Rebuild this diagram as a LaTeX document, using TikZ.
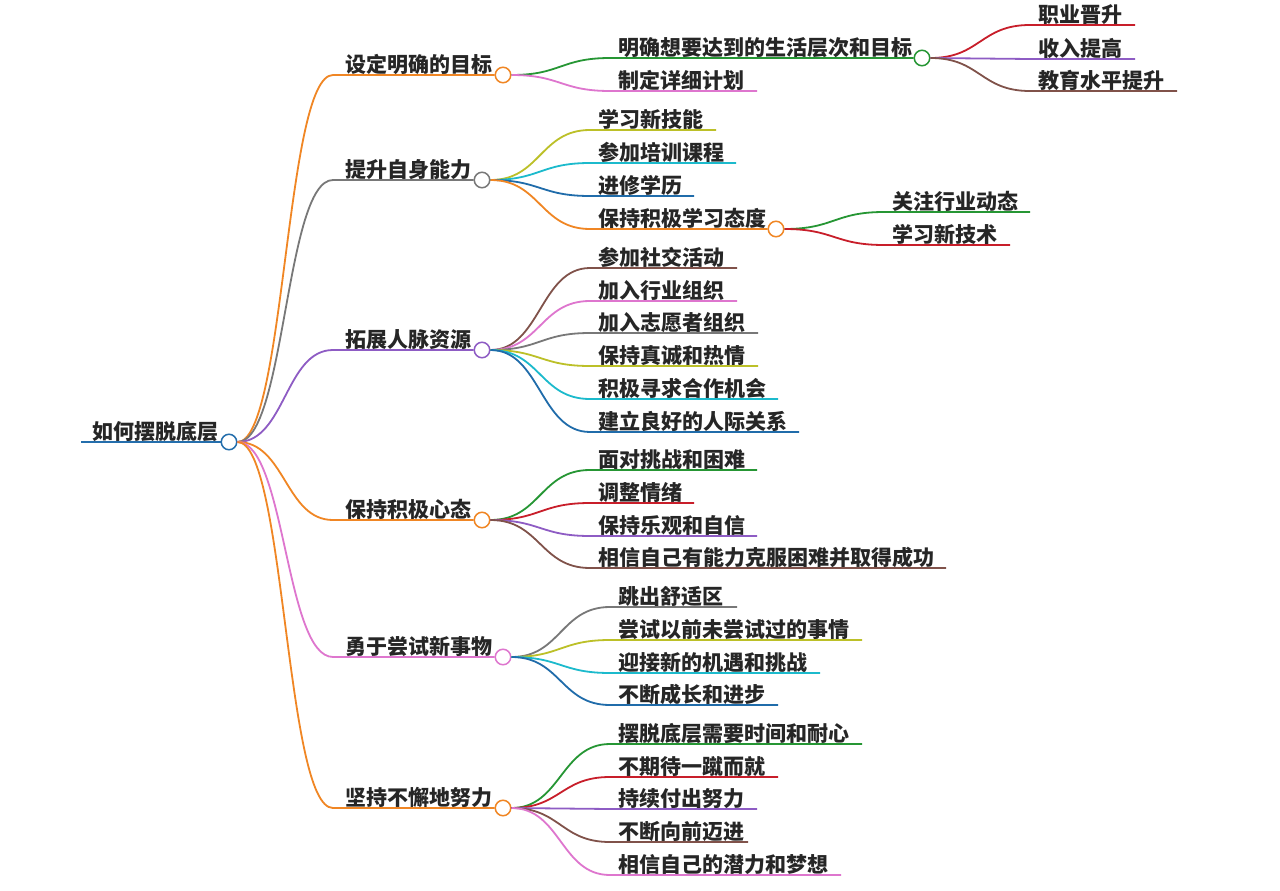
\documentclass[tikz,border=0pt]{standalone}
\usepackage{fontspec}
\setmainfont{Noto Sans CJK SC}
\usetikzlibrary{calc}
\definecolor{mmblue}{RGB}{36,110,172}
\definecolor{mmorange}{RGB}{240,134,36}
\definecolor{mmgray}{RGB}{120,120,120}
\definecolor{mmpurple}{RGB}{142,92,196}
\definecolor{mmpink}{RGB}{222,118,206}
\definecolor{mmgreen}{RGB}{38,150,52}
\definecolor{mmred}{RGB}{200,30,42}
\definecolor{mmbrown}{RGB}{128,82,74}
\definecolor{mmolive}{RGB}{188,192,40}
\definecolor{mmcyan}{RGB}{28,186,204}
\definecolor{mmdeep}{RGB}{32,108,170}

\begin{document}
\begin{tikzpicture}[
  x=1pt, y=-1pt,
  link/.style={line width=1.8pt},
  curve/.style={to path={let \p1=(\tikztostart), \p2=(\tikztotarget) in
    .. controls ({(\x1+\x2)/2},\y1) and ({(\x1+\x2)/2},\y2) .. (\tikztotarget)}},
  dot/.style={circle, draw, fill=white, line width=1.5pt, minimum size=15.5pt, inner sep=0pt},
  txt/.style={anchor=base west, inner sep=0pt, font=\fontsize{21}{24}\selectfont\bfseries, text=black!85}
]
  \useasboundingbox[fill=white] (0,0) rectangle (1280,891);

  % Root
  \coordinate (r0) at (81,442);
  \node[dot, draw=mmblue] (root) at (229,442) {};
  \node[txt] (rt) at (92,439.5) {如何摆脱底层};
  \draw[link, mmblue] (r0) -- (root.west);

  % Main branches
  \foreach \y/\cx/\c/\t [count=\i] in {
      75/503/mmorange/设定明确的目标,
      180/482/mmgray/提升自身能力,
      350/482/mmpurple/拓展人脉资源,
      520/482/mmorange/保持积极心态,
      657/503/mmpink/勇于尝试新事物,
      808/503/mmorange/坚持不懈地努力} {
    \coordinate (s\i) at (333,\y);
    \node[dot, draw=\c] (c\i) at (\cx,\y) {};
    \node[txt] (t\i) at (345,\y-2.5) {\t};
    \draw[link, \c] (root.east) to[curve] (s\i) -- (c\i.west);
  }

  % Goals
  \coordinate (a1) at (610,58);
  \node[dot, draw=mmgreen] (g1) at (922,58) {};
  \node[txt] (at1) at (618,55.5) {明确想要达到的生活层次和目标};
  \draw[link, mmgreen] (c1.east) to[curve] (a1) -- (g1.west);
  \coordinate (a2) at (610,91);
  \coordinate (ae2) at (757,91);
  \node[txt] (at2) at (618,88.5) {制定详细计划};
  \draw[link, mmpink] (c1.east) to[curve] (a2) -- (ae2);

  \foreach \y/\e/\c/\t [count=\i] in {
      25/1135/mmred/职业晋升,
      59/1135/mmpurple/收入提高,
      91/1177/mmbrown/教育水平提升} {
    \coordinate (gs\i) at (1030,\y);
    \coordinate (ge\i) at (\e,\y);
    \node[txt] (gt\i) at (1038,\y-2.5) {\t};
    \draw[link, \c] (g1.east) to[curve] (gs\i) -- (ge\i);
  }

  % Abilities
  \foreach \y/\e/\c/\t [count=\i] in {
      130/716/mmolive/学习新技能,
      163/736/mmcyan/参加培训课程,
      196/694/mmdeep/进修学历} {
    \coordinate (bs\i) at (590,\y);
    \coordinate (be\i) at (\e,\y);
    \node[txt] (bt\i) at (598,\y-2.5) {\t};
    \draw[link, \c] (c2.east) to[curve] (bs\i) -- (be\i);
  }
  \coordinate (bs4) at (590,229);
  \node[dot, draw=mmorange] (g2) at (776,229) {};
  \node[txt] (bt4) at (598,226.5) {保持积极学习态度};
  \draw[link, mmorange] (c2.east) to[curve] (bs4) -- (g2.west);

  \foreach \y/\e/\c/\t [count=\i] in {
      212/1030/mmgreen/关注行业动态,
      245/1010/mmred/学习新技术} {
    \coordinate (hs\i) at (884,\y);
    \coordinate (he\i) at (\e,\y);
    \node[txt] (ht\i) at (892,\y-2.5) {\t};
    \draw[link, \c] (g2.east) to[curve] (hs\i) -- (he\i);
  }

  % Network
  \foreach \y/\e/\c/\t [count=\i] in {
      268/737/mmbrown/参加社交活动,
      301/737/mmpink/加入行业组织,
      333/758/mmgray/加入志愿者组织,
      366/758/mmolive/保持真诚和热情,
      399/778/mmcyan/积极寻求合作机会,
      432/799/mmdeep/建立良好的人际关系} {
    \coordinate (ns\i) at (590,\y);
    \coordinate (ne\i) at (\e,\y);
    \node[txt] (nt\i) at (598,\y-2.5) {\t};
    \draw[link, \c] (c3.east) to[curve] (ns\i) -- (ne\i);
  }

  % Mindset
  \foreach \y/\e/\c/\t [count=\i] in {
      470/757/mmgreen/面对挑战和困难,
      503/694/mmred/调整情绪,
      536/757/mmpurple/保持乐观和自信,
      568/946/mmbrown/相信自己有能力克服困难并取得成功} {
    \coordinate (ms\i) at (590,\y);
    \coordinate (me\i) at (\e,\y);
    \node[txt] (mt\i) at (598,\y-2.5) {\t};
    \draw[link, \c] (c4.east) to[curve] (ms\i) -- (me\i);
  }

  % New things
  \foreach \y/\e/\c/\t [count=\i] in {
      607/737/mmgray/跳出舒适区,
      640/862/mmolive/尝试以前未尝试过的事情,
      673/820/mmcyan/迎接新的机遇和挑战,
      705/778/mmdeep/不断成长和进步} {
    \coordinate (ks\i) at (610,\y);
    \coordinate (ke\i) at (\e,\y);
    \node[txt] (kt\i) at (618,\y-2.5) {\t};
    \draw[link, \c] (c5.east) to[curve] (ks\i) -- (ke\i);
  }

  % Persistence
  \foreach \y/\e/\c/\t [count=\i] in {
      744/862/mmgreen/摆脱底层需要时间和耐心,
      777/778/mmred/不期待一蹴而就,
      809/757/mmpurple/持续付出努力,
      842/748/mmbrown/不断向前迈进,
      875/841/mmpink/相信自己的潜力和梦想} {
    \coordinate (ps\i) at (610,\y);
    \coordinate (pe\i) at (\e,\y);
    \node[txt] (pt\i) at (618,\y-2.5) {\t};
    \draw[link, \c] (c6.east) to[curve] (ps\i) -- (pe\i);
  }
\end{tikzpicture}
\end{document}
